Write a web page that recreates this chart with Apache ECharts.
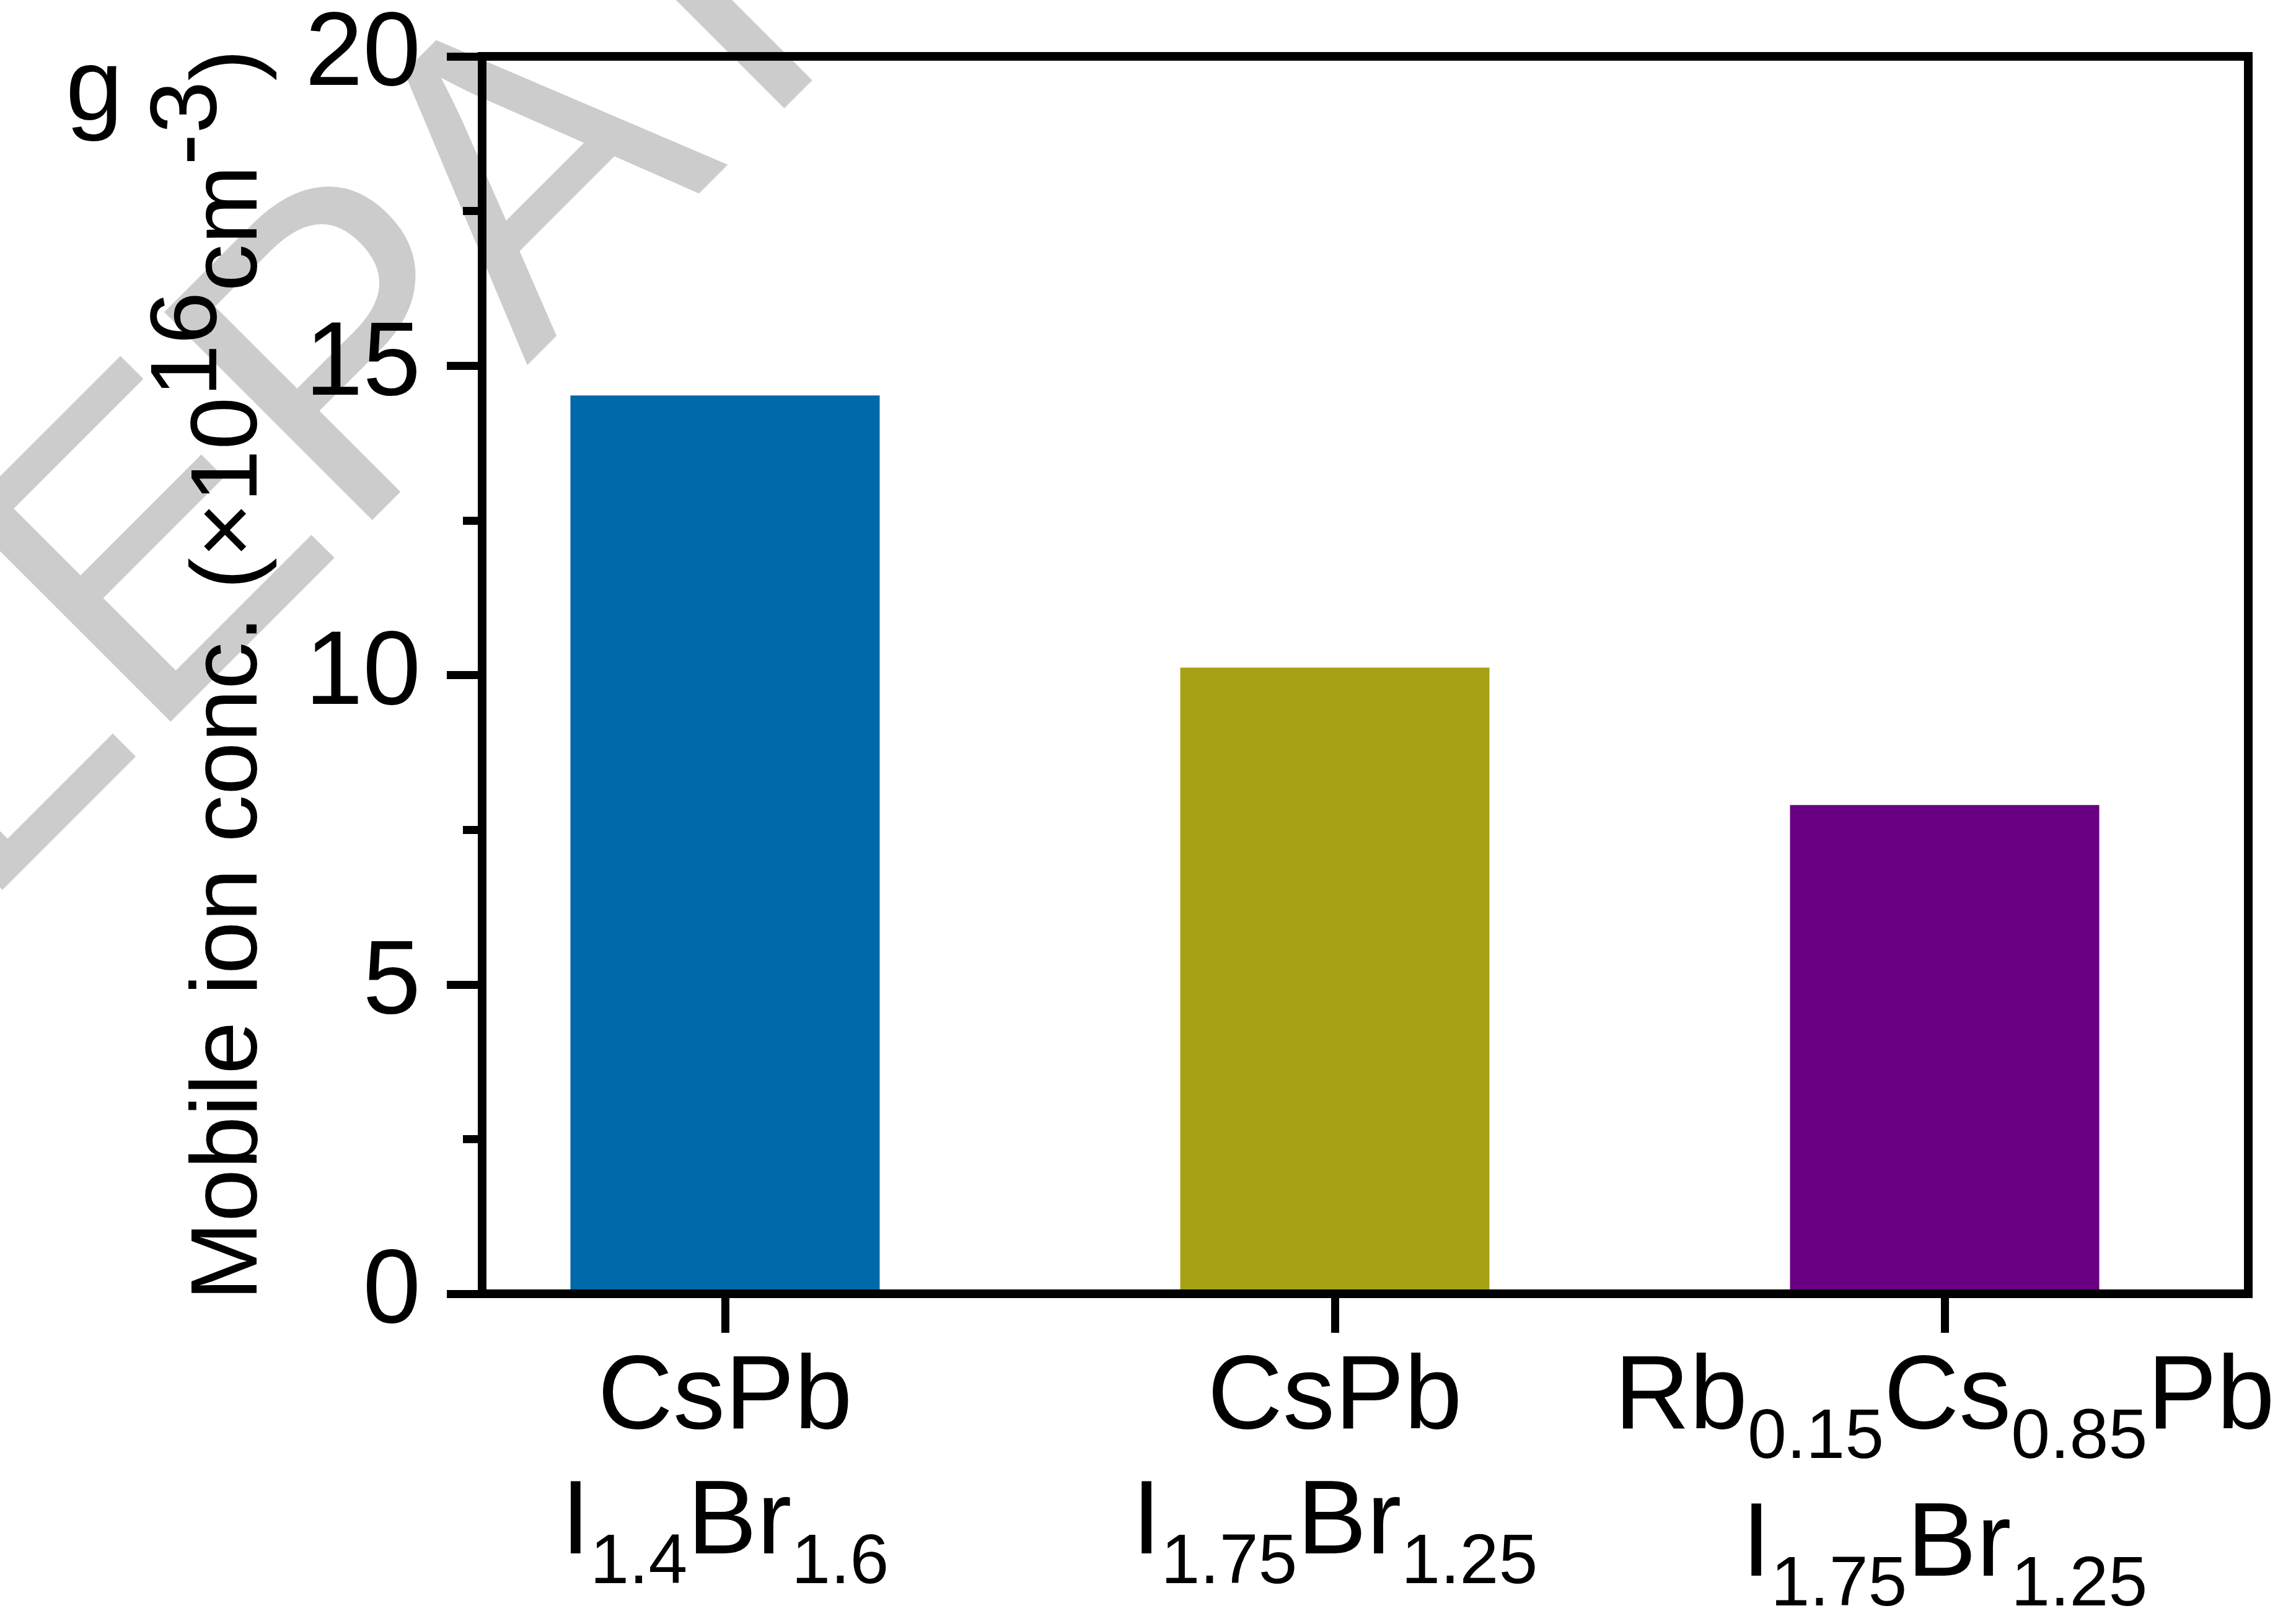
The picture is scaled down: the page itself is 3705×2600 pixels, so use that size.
<!DOCTYPE html>
<html>
<head>
<meta charset="utf-8">
<title>Mobile ion concentration</title>
<script src="https://cdn.jsdelivr.net/npm/echarts@6/dist/echarts.min.js"></script>
<style>
  html, body { margin: 0; padding: 0; background: #fff; }
  #chart { width: 3705px; height: 2600px; }
</style>
</head>
<body>
<div id="chart"></div>
<script>
// composition labels, "_" marks a subscript
var formulaTop = ['CsPb', 'CsPb', 'Rb_0.15Cs_0.85Pb'];
var formulaBottom = ['I_1.4Br_1.6', 'I_1.75Br_1.25', 'I_1.75Br_1.25'];
// mobile ion concentration (x10^16 cm^-3)
var ionConc = [14.52, 10.12, 7.90];
var barColors = ['#0069aa', '#a7a116', '#690083'];
// y axis ticks
var yMin = 0, yMax = 20, yStep = 5;
// y axis title pieces: [text, isSuperscript]
var yTitle = [['Mobile ion conc. (×10', false], ['16', true], ['cm', false], ['-3', true], [')', false]];

var FONT = 'Liberation Sans, Arial, Helvetica, sans-serif';

// turn "Rb_0.15Cs" into rich text tokens
function toRich(s) {
    var parts = s.split(/_([\d.]+)/);
    var out = '';
    for (var i = 0; i < parts.length; i++) {
        if (!parts[i]) continue;
        out += (i % 2 ? '{s|' : '{n|') + parts[i] + '}';
    }
    return out;
}

var categories = formulaTop.map(function (t, i) { return t + ' ' + formulaBottom[i]; });

var chart = echarts.init(document.getElementById('chart'));

// black frame line
var frameLine = { show: true, onZero: false, lineStyle: { color: '#000', width: 14, cap: 'square' } };

option = {
    animation: false,
    backgroundColor: '#fff',
    grid: [{
        // bars
        left: 678, right: 75, top: 91, bottom: 512,
        outerBoundsMode: 'none'
    }, {
        // frame
        left: 778, right: 77, top: 91, bottom: 512,
        outerBoundsMode: 'none'
    }],
    xAxis: [{
        type: 'category',
        gridIndex: 0,
        data: categories,
        axisLine: { show: false },
        axisTick: {
            show: true,
            alignWithLabel: true,
            length: 63,
            lineStyle: { color: '#000', width: 13 }
        },
        axisLabel: {
            interval: 0,
            margin: 87,
            formatter: function (v, idx) {
                return toRich(formulaTop[idx]) + '\n' + toRich(formulaBottom[idx]);
            },
            rich: {
                n: { fontSize: 168, fontFamily: FONT, color: '#000', lineHeight: 202, verticalAlign: 'top' },
                s: { fontSize: 113, fontFamily: FONT, color: '#000', lineHeight: 238, verticalAlign: 'top', padding: [90, 0, 0, 0] }
            }
        },
        splitLine: { show: false }
    }, {
        type: 'value',
        gridIndex: 1,
        position: 'bottom',
        min: 0, max: 1,
        z: 5,
        axisLine: frameLine,
        axisTick: { show: false },
        axisLabel: { show: false },
        splitLine: { show: false }
    }, {
        type: 'value',
        gridIndex: 1,
        position: 'top',
        min: 0, max: 1,
        z: 5,
        axisLine: frameLine,
        axisTick: { show: false },
        axisLabel: { show: false },
        splitLine: { show: false }
    }],
    yAxis: [{
        type: 'value',
        gridIndex: 0,
        min: yMin, max: yMax, interval: yStep,
        show: false
    }, {
        type: 'value',
        gridIndex: 1,
        position: 'left',
        min: yMin, max: yMax, interval: yStep,
        z: 5,
        axisLine: frameLine,
        axisTick: { show: true, inside: false, length: 57, lineStyle: { color: '#000', width: 13 } },
        minorTick: { show: true, splitNumber: 2, length: 31, lineStyle: { color: '#000', width: 13 } },
        axisLabel: { margin: 99, fontSize: 168, fontFamily: FONT, color: '#000' },
        splitLine: { show: false },
        minorSplitLine: { show: false },
        name: yTitle.map(function (p) { return (p[1] ? '{u|' : '{n|') + p[0] + '}'; }).join(''),
        nameLocation: 'middle',
        nameGap: 330,
        nameTextStyle: {
            rich: {
                n: { fontSize: 153, fontFamily: FONT, color: '#000', lineHeight: 218, verticalAlign: 'bottom' },
                u: { fontSize: 153, fontFamily: FONT, color: '#000', lineHeight: 153, verticalAlign: 'top' }
            }
        }
    }, {
        type: 'value',
        gridIndex: 1,
        position: 'right',
        min: yMin, max: yMax, interval: yStep,
        z: 5,
        axisLine: frameLine,
        axisTick: { show: false },
        axisLabel: { show: false },
        splitLine: { show: false }
    }],
    graphic: [{
        // watermark
        type: 'text',
        x: 566, y: 605,
        rotation: Math.PI / 4,
        z: -10,
        silent: true,
        style: { text: 'LEPAT', fontSize: 690, fontFamily: FONT, fill: '#cccccc', align: 'center', verticalAlign: 'middle' }
    }, {
        type: 'text',
        x: 106, y: 148,
        style: { text: 'g', fontSize: 166, fontFamily: FONT, fill: '#000', align: 'left', verticalAlign: 'middle' }
    }, {
        type: 'text',
        x: 2480, y: -87,
        style: { text: '(c)', fontSize: 168, fontFamily: FONT, fill: '#000', align: 'center', verticalAlign: 'middle' }
    }],
    series: [{
        type: 'bar',
        xAxisIndex: 0,
        yAxisIndex: 0,
        barWidth: 499,
        data: ionConc.map(function (v, i) {
            return { value: v, itemStyle: { color: barColors[i] } };
        })
    }]
};
chart.setOption(option);
</script>
</body>
</html>
